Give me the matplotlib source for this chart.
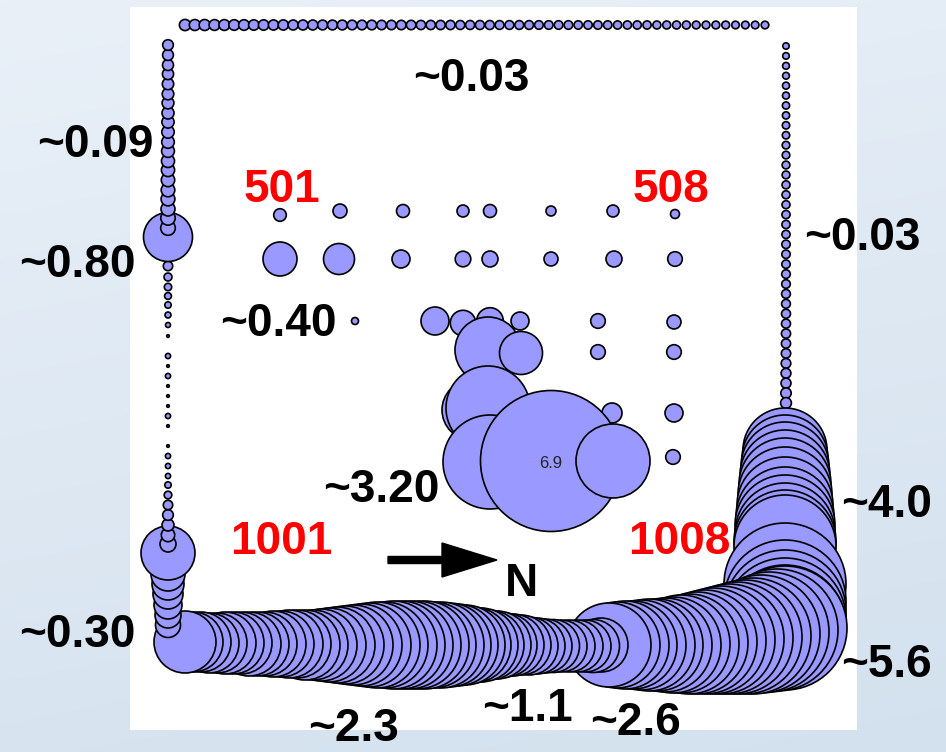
import numpy as np
import matplotlib
matplotlib.use("Agg")
import matplotlib.pyplot as plt
from matplotlib.patches import Rectangle, FancyArrow
from matplotlib.colors import LinearSegmentedColormap

# ---------------- data (bubble radius values) ----------------
# top row, drawn left -> right
top_row_x = np.linspace(185, 765, 60)
top_row_r = [5.6, 5.5, 5.5, 5.4, 5.4, 5.3, 5.3, 5.2, 5.2, 5.1,
             5.1, 5.0, 5.0, 5.0, 4.9, 4.9, 4.9, 4.8, 4.8, 4.8,
             4.7, 4.7, 4.7, 4.7, 4.6, 4.6, 4.6, 4.6, 4.5, 4.5,
             4.5, 4.5, 4.4, 4.4, 4.4, 4.4, 4.3, 4.3, 4.3, 4.3,
             4.2, 4.2, 4.2, 4.2, 4.1, 4.1, 4.1, 4.1, 4.0, 4.0,
             4.0, 4.0, 3.9, 3.9, 3.9, 3.9, 3.8, 3.8, 3.8, 3.8]

# right column, upper (thin) part, drawn top -> bottom
right_up_y = np.linspace(46, 403, 37)
right_up_r = [3.2, 3.3, 3.4, 3.4, 3.5, 3.5, 3.6, 3.6, 3.7, 3.7,
              3.8, 3.8, 3.9, 3.9, 4.0, 4.0, 4.0, 4.1, 4.1, 4.1,
              4.2, 4.2, 4.2, 4.3, 4.3, 4.4, 4.4, 4.5, 4.5, 4.6,
              4.6, 4.7, 4.8, 4.9, 5.0, 5.2, 5.4]

# right column, lower (thick) part, drawn top -> bottom
right_low_y = [450, 458, 466, 475, 484, 494, 505, 516, 525, 533, 541, 546,
               584, 601, 611, 619, 626]
right_low_r = [42, 43, 44, 45, 46, 47, 48, 49, 50, 50, 51, 51,
               61, 61, 61, 61, 61]

# bottom tube, drawn right -> left
tube_x = np.arange(785, 180, -8)
tube_y = [628, 630, 632, 634, 636, 637, 638, 639, 640, 641, 642, 643, 644, 644, 645, 645,
          645, 645, 645, 645, 645, 645, 645, 645, 646, 646, 646, 646, 646, 646,
          646, 646, 646, 645, 645, 645, 645, 645, 645, 645, 645, 645, 645, 645,
          645, 645, 645, 645, 645, 645, 645, 645, 645, 645, 645, 645, 645, 645,
          645, 645, 645,
          644, 644, 644, 644, 644, 644, 644,
          643, 643, 643, 643, 643,
          642, 642, 642]
tube_r = [62, 61, 60, 59, 58, 57, 56, 55, 54, 53, 52, 51, 50, 49, 48, 47,
          46, 46, 45, 44, 44, 43, 42,
          27, 26.5, 26, 26, 26, 26, 26.5, 27, 28, 29, 30, 31, 32, 34, 35, 37, 38,
          40, 41, 42, 43, 43, 44, 44, 44, 44, 44, 43, 43, 42, 41, 40, 39, 38, 37,
          36, 35, 35, 34, 34, 33, 33, 32, 32, 32, 31, 31, 31, 30, 30, 30, 30, 31]

# left column, drawn bottom -> top
left_y = [625, 615, 605, 594, 584, 574,
          553,
          544, 535, 525, 515, 505, 495, 485,
          476, 466, 456, 446, 436, 426, 416, 406, 396, 386, 376, 366, 356, 346, 336,
          325, 315, 305, 296, 287, 277, 266,
          237,
          228, 218, 209, 199, 190, 180, 170, 161, 151, 142,
          132, 122, 113, 103, 94, 84, 74, 65, 55, 45]
left_r = [12.5, 13, 14, 15, 16, 17,
          27,
          8, 6.7, 6, 5.3, 4.7, 3.8, 3.2,
          2.6, 2.6, 2.6, 1.3, 0, 1.3, 2.6, 1.3, 1.3, 1.3, 2.6, 1.3, 2.6, 0, 1.3,
          2.5, 3, 3.2, 3.4, 3.7, 4, 4.7,
          24.5,
          7.3, 7.2, 7.0, 6.9, 6.8, 6.7, 6.6, 6.5, 6.4, 6.3,
          6.2, 6.1, 6.0, 5.9, 5.8, 5.7, 5.6, 5.5, 5.4, 5.3]

# interior channels (row by row)
inner_x = [280, 340, 403, 463, 490, 551, 613, 675,
           280, 339, 401, 463, 490, 551, 614, 675,
           355, 435, 463, 490, 520, 598, 674,
           488, 521, 598, 674,
           472, 488, 612, 674,
           490, 551, 613, 673]
inner_y = [215, 211, 211, 211, 211, 211, 211, 214,
           259, 259, 259, 259, 259, 259, 259, 259,
           321, 321, 323, 321, 321, 321, 322,
           350, 353, 352, 352,
           410, 408, 413, 413,
           462, 461, 461, 457]
inner_r = [6.3, 7, 6.5, 6, 6.5, 5, 6, 4.5,
           17, 15.5, 9, 7.8, 8, 7, 8, 7.3,
           3.5, 14, 12.7, 13.3, 9, 7.3, 7,
           33, 21.5, 7.3, 7.3,
           30, 42, 10, 9,
           47, 70.5, 37, 7.3]

value_labels = ["~0.03", "~0.09", "~0.80", "~0.40", "~3.20", "~0.30",
                "~2.3", "~1.1", "~2.6", "~5.6", "~4.0", "~0.03"]
channel_labels = ["501", "508", "1001", "1008"]
peak_label = "6.9"

# ---------------- drawing ----------------
W, H, DPI = 946, 752, 100
fig = plt.figure(figsize=(W / DPI, H / DPI), dpi=DPI)

# background gradient
bg = fig.add_axes([0, 0, 1, 1])
cmap = LinearSegmentedColormap.from_list("bg", ["#e9f0f8", "#d3e1ee"])
g = np.linspace(0, 1, 256).reshape(-1, 1) * 0.8 + np.linspace(0, 0.2, 256).reshape(1, -1)
bg.imshow(g, cmap=cmap, aspect="auto", extent=[0, 1, 0, 1], origin="upper")
bg.set_axis_off()

ax = fig.add_axes([0, 0, 1, 1])
ax.set_xlim(0, W)
ax.set_ylim(H, 0)
ax.set_axis_off()
ax.patch.set_alpha(0)

ax.add_patch(Rectangle((130, 7), 727, 723, facecolor="white", edgecolor="none", zorder=0))

FILL = "#9999ff"
LW = 1.2


def bubbles(x, y, r, z):
    x = np.asarray(x, float) * np.ones(len(r))
    y = np.asarray(y, float) * np.ones(len(r))
    r = np.asarray(r, float)
    keep = r > 0
    ax.scatter(x[keep], y[keep], s=(2 * r[keep] * 72 / DPI) ** 2, c=FILL,
               edgecolors="black", linewidths=LW, zorder=z)


bubbles(top_row_x, 25, top_row_r, 2)
bubbles(786, right_up_y, right_up_r, 3)
bubbles(785, right_low_y, right_low_r, 4)
bubbles(tube_x, tube_y, tube_r, 5)
bubbles(168, left_y, left_r, 6)
bubbles(inner_x, inner_y, inner_r, 7)

# labels
FONT = "Liberation Sans"
FS = 33
label_pos = [(471, 91), (95, 157), (77, 277), (278, 336), (381, 502), (77, 647),
             (353, 741), (527, 721), (635, 735), (886, 677), (887, 517), (862, 250)]
for t, (x, y) in zip(value_labels, label_pos):
    ax.text(x, y, t, fontsize=FS, fontweight="bold", family=FONT,
            ha="center", va="baseline", color="black", zorder=10)

chan_pos = [(282, 202), (671, 202), (281, 554), (679, 554)]
for t, (x, y) in zip(channel_labels, chan_pos):
    ax.text(x, y, t, fontsize=FS, fontweight="bold", family=FONT,
            ha="center", va="baseline", color="#ff0000", zorder=10)

ax.text(551, 468, peak_label, fontsize=12, family=FONT, ha="center",
        va="baseline", color="#222222", zorder=11)

ax.add_patch(FancyArrow(388, 560, 109, 0, width=7, head_width=34, head_length=55,
                        length_includes_head=True, color="black", zorder=10))
ax.text(521, 596, "N", fontsize=FS, fontweight="bold", family=FONT,
        ha="center", va="baseline", color="black", zorder=10)

fig.savefig("out.png", dpi=DPI)
